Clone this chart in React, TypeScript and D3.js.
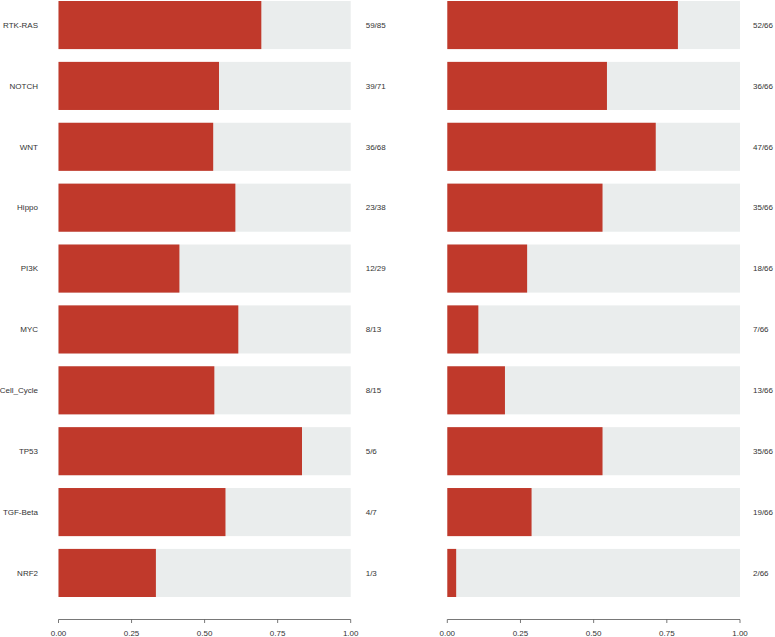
import React from "react";
import * as d3 from "d3";

const categories = ["RTK-RAS", "NOTCH", "WNT", "Hippo", "PI3K", "MYC", "Cell_Cycle", "TP53", "TGF-Beta", "NRF2"];
const leftNum = [59, 39, 36, 23, 12, 8, 8, 5, 4, 1];
const leftDen = [85, 71, 68, 38, 29, 13, 15, 6, 7, 3];
const rightNum = [52, 36, 47, 35, 18, 7, 13, 35, 19, 2];
const rightDen = [66, 66, 66, 66, 66, 66, 66, 66, 66, 66];
const ticks = [0, 0.25, 0.5, 0.75, 1];

const W = 775;
const H = 637;
const RED = "#C0392B";
const GREY = "#EAEDED";
const TEXT = "#333333";
const FONT = "Liberation Sans, Arial, Helvetica, sans-serif";

const y = d3.scaleBand<string>().domain(categories).range([1, 597]).paddingInner(0.21).paddingOuter(0);
const axisY = 619.5;

function Panel({ x0, x1, nums, dens, labelX, showCats }: { x0: number; x1: number; nums: number[]; dens: number[]; labelX: number; showCats: boolean }) {
  const x = d3.scaleLinear().domain([0, 1]).range([x0, x1]);
  return (
    <g>
      {categories.map((c, i) => {
        const yy = y(c)!;
        const bw = y.bandwidth();
        const frac = nums[i] / dens[i];
        return (
          <g key={c}>
            <rect x={x(0)} y={yy} width={x(1) - x(0)} height={bw} fill={GREY} />
            <rect x={x(0)} y={yy} width={x(frac) - x(0)} height={bw} fill={RED} />
            {showCats && (
              <text x={38} y={yy + bw / 2} dy="0.35em" textAnchor="end" fontSize={8} fill={TEXT} fontFamily={FONT}>
                {c}
              </text>
            )}
            <text x={labelX} y={yy + bw / 2} dy="0.35em" textAnchor="start" fontSize={8} fill={TEXT} fontFamily={FONT}>
              {`${nums[i]}/${dens[i]}`}
            </text>
          </g>
        );
      })}
      <line x1={x(0)} x2={x(1)} y1={axisY} y2={axisY} stroke="#555" strokeWidth={0.8} />
      {ticks.map((t) => (
        <g key={t}>
          <line x1={x(t)} x2={x(t)} y1={axisY} y2={axisY + 3.5} stroke="#555" strokeWidth={0.8} />
          <text x={x(t)} y={633} dy="0.35em" textAnchor="middle" fontSize={8} fill={TEXT} fontFamily={FONT}>
            {t.toFixed(2)}
          </text>
        </g>
      ))}
    </g>
  );
}

export default function App() {
  return (
    <svg width={W} height={H} style={{ position: "fixed", left: 0, top: 0, background: "#fff" }}>
      <rect width={W} height={H} fill="#fff" />
      <Panel x0={58.5} x1={350.7} nums={leftNum} dens={leftDen} labelX={365.7} showCats={true} />
      <Panel x0={447.3} x1={740} nums={rightNum} dens={rightDen} labelX={753} showCats={false} />
    </svg>
  );
}
